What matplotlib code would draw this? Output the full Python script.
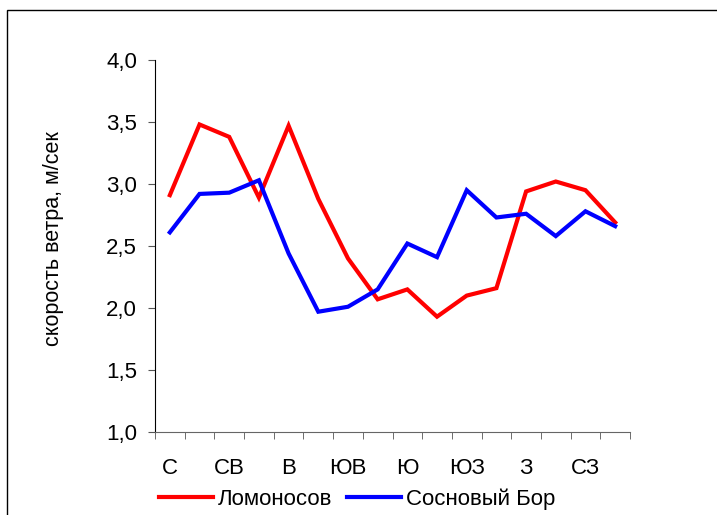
import matplotlib
matplotlib.use("Agg")
import matplotlib.pyplot as plt
from matplotlib.patches import Rectangle
import numpy as np

plt.rcParams['font.family'] = ['Liberation Sans', 'DejaVu Sans']

# 16 румбов, подписи через один
directions = ["С", "", "СВ", "", "В", "", "ЮВ", "", "Ю", "", "ЮЗ", "", "З", "", "СЗ", ""]
lomonosov = [2.91, 3.48, 3.38, 2.89, 3.47, 2.88, 2.40, 2.07, 2.15, 1.93, 2.10, 2.16, 2.94, 3.02, 2.95, 2.69]
sosnovy_bor = [2.61, 2.92, 2.93, 3.03, 2.44, 1.97, 2.01, 2.15, 2.52, 2.41, 2.95, 2.73, 2.76, 2.58, 2.78, 2.66]
y_ticks = [1.0, 1.5, 2.0, 2.5, 3.0, 3.5, 4.0]

fs = 16

fig = plt.figure(figsize=(7.17, 5.15), dpi=100)
ax = fig.add_axes([155/717, 1 - 432/515, 475/717, 372/515])

x = np.arange(len(lomonosov))
ax.plot(x, lomonosov, color="#FF0000", lw=3, label="Ломоносов", solid_joinstyle="miter")
ax.plot(x, sosnovy_bor, color="#0000FF", lw=3, label="Сосновый Бор", solid_joinstyle="miter")

ax.set_xlim(-0.5, len(x) - 0.5)
ax.set_ylim(1.0, 4.0)
ax.set_yticks(y_ticks)
ax.set_yticklabels([f"{v:.1f}".replace(".", ",") for v in y_ticks])

ax.set_xticks(x[::2])
ax.set_xticklabels([d for d in directions if d])
ax.set_xticks(np.arange(len(x) + 1) - 0.5, minor=True)
ax.tick_params(axis="x", which="major", length=0, pad=19, labelsize=fs)
ax.tick_params(axis="x", which="minor", length=5, direction="out", color="#555555")
ax.tick_params(axis="y", length=5, direction="out", pad=8, labelsize=fs, color="#555555")

for s in ["top", "right"]:
    ax.spines[s].set_visible(False)
ax.spines["left"].set_color("black")
ax.spines["bottom"].set_color("#666666")

ax.set_ylabel("скорость ветра, м/сек", fontsize=15.5)
ax.yaxis.set_label_coords((64 - 155) / 475, 0.52)

fig.legend(loc="center", bbox_to_anchor=(357/717, 1 - 499/515), ncol=2, frameon=False,
           fontsize=fs, handlelength=2.43, handletextpad=0.23, columnspacing=0.63)

fig.patches.append(Rectangle((7/717, -0.1), 1.2, 1 - 10/515 + 0.1, transform=fig.transFigure,
                             fill=False, edgecolor="black", lw=1))

fig.savefig("out.png", dpi=100)
